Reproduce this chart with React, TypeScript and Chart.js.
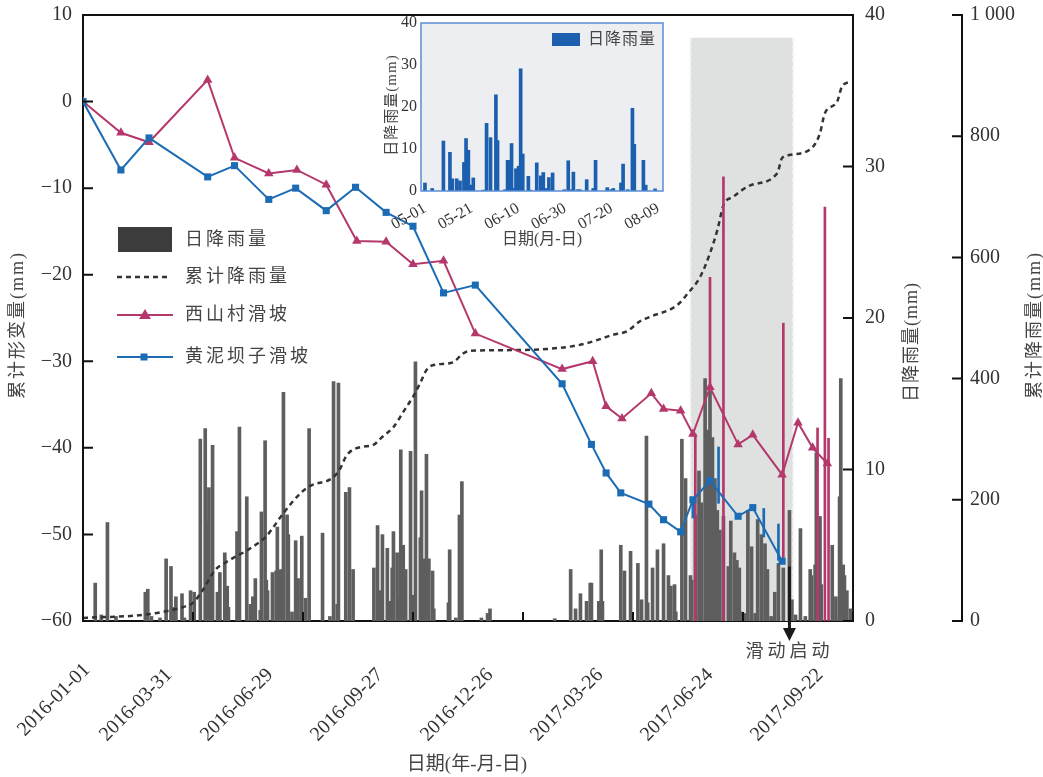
import React, { useEffect, useRef } from "react";
import { Chart, registerables } from "chart.js";
Chart.register(...registerables);

// ---------------- Main chart data (x = days since 2016-01-01) ----------------
const xTickDays = [0, 90, 180, 270, 360, 450, 540, 630];
const xTickLabels = ["2016-01-01", "2016-03-31", "2016-06-29", "2016-09-27", "2016-12-26", "2017-03-26", "2017-06-24", "2017-09-22"];

const rainDays = [10, 15, 20, 27, 51, 53, 56, 63, 68, 72, 74, 76, 81, 83, 88, 91, 96, 100, 101, 103, 105, 106, 110, 112, 116, 118, 119, 126, 128, 134, 137, 139, 141, 145, 146, 149, 150, 151, 155, 158, 159, 161, 162, 164, 167, 168, 171, 174, 176, 179, 182, 185, 196, 202, 205, 208, 209, 215, 218, 221, 238, 241, 243, 245, 249, 251, 253, 254, 257, 259, 260, 262, 264, 268, 270, 272, 276, 277, 279, 281, 283, 286, 287, 299, 300, 305, 308, 310, 326, 331, 333, 386, 399, 403, 407, 412, 415, 416, 422, 424, 425, 440, 443, 448, 454, 457, 461, 462, 466, 470, 475, 479, 481, 484, 485, 490, 493, 497, 498, 501, 504, 506, 509, 511, 513, 515, 517, 519, 521, 524, 528, 530, 533, 535, 537, 538, 541, 544, 547, 550, 552, 555, 558, 560, 563, 566, 569, 573, 578, 580, 583, 587, 591, 595, 596, 599, 600, 603, 604, 613, 616, 619, 620, 622, 623, 625, 628];
const rainValues = [2.5, 0.4, 6.5, 0.3, 1.9, 2.1, 0.3, 0.2, 4.1, 3.6, 0.9, 1.6, 1.8, 0.2, 2.0, 1.9, 12.0, 12.7, 6.5, 8.8, 3.1, 11.6, 1.9, 3.2, 4.5, 2.3, 0.9, 5.9, 12.8, 8.2, 1.1, 1.6, 2.8, 0.7, 7.2, 11.9, 2.7, 2.0, 3.2, 3.3, 6.2, 3.3, 3.4, 15.1, 7.0, 5.7, 0.6, 5.3, 2.8, 5.6, 1.5, 12.7, 5.8, 0.3, 15.8, 1.1, 15.7, 8.5, 8.8, 3.4, 3.5, 6.3, 2.0, 5.7, 4.8, 1.3, 3.5, 5.9, 4.5, 1.5, 11.3, 5.0, 3.4, 11.2, 1.7, 17.1, 5.5, 8.6, 4.1, 11.0, 4.1, 3.3, 0.8, 1.2, 4.7, 0.2, 7.0, 9.2, 0.2, 0.5, 0.8, 0.15, 3.4, 0.8, 1.8, 1.3, 2.5, 2.5, 1.3, 4.7, 1.3, 5.0, 3.3, 4.6, 3.8, 1.4, 12.2, 1.2, 3.5, 4.7, 5.1, 3.0, 2.3, 2.4, 0.6, 12.0, 9.4, 3.0, 2.7, 7.0, 9.9, 7.8, 16.0, 12.6, 15.2, 12.1, 9.4, 7.3, 6.0, 6.9, 3.6, 6.6, 4.5, 4.0, 3.5, 0.6, 0.5, 7.3, 4.9, 0.5, 6.7, 5.7, 5.1, 3.4, 0.3, 1.9, 3.8, 3.5, 7.3, 1.4, 0.4, 6.1, 0.3, 3.4, 3.0, 3.7, 11.1, 6.9, 2.4, 5.0, 1.6, 8.2, 16.0, 3.7, 3.0, 2.0, 0.8];

const cumDays = [0, 10, 27, 49, 65, 82, 90, 98, 108, 117, 137, 150, 164, 178, 186, 204, 210, 216, 227, 237, 245, 254, 263, 270, 276, 281, 286, 303, 310, 317, 350, 380, 405, 420, 433, 445, 456, 464, 486, 495, 505, 513, 519, 524, 532, 546, 568, 572, 578, 597, 603, 607, 617, 621, 628];
const cumValues = [5, 6, 7, 10, 15, 23, 30, 51, 84, 97, 120, 140, 178, 211, 223, 236, 250, 274, 287, 290, 304, 320, 348, 370, 393, 414, 422, 427, 440, 446, 447, 449, 455, 463, 472, 478, 495, 502, 521, 541, 568, 607, 645, 686, 700, 719, 739, 764, 769, 782, 805, 838, 857, 882, 890];

const xscDays = [0, 31, 54, 102, 124, 152, 175, 199, 224, 248, 270, 295, 321, 392, 417, 428, 441, 465, 475, 489, 499, 513, 536, 548, 572, 585, 597, 609];
const xscValues = [0, -3.6, -4.7, 2.5, -6.5, -8.3, -7.9, -9.6, -16.1, -16.2, -18.8, -18.4, -26.8, -30.9, -30.0, -35.2, -36.6, -33.7, -35.5, -35.7, -38.4, -33.0, -39.6, -38.5, -43.1, -37.1, -40.0, -41.8];

const hnbDays = [0, 31, 54, 102, 124, 152, 174, 199, 223, 248, 270, 295, 321, 392, 416, 428, 440, 463, 475, 489, 499, 513, 536, 548, 572];
const hnbValues = [0, -7.9, -4.2, -8.7, -7.4, -11.3, -10.0, -12.6, -9.9, -12.8, -14.4, -22.1, -21.2, -32.6, -39.6, -42.9, -45.2, -46.5, -48.3, -49.7, -46.0, -43.8, -47.9, -46.9, -53.1];

const redSpikeDays = [501, 513, 524, 573, 601, 607, 610];
const redSpikeTop = [-38.4, -20.3, -8.7, -25.6, -37.7, -12.2, -38.9];
const redSpikeBottom = [-60, -33, -60, -53.1, -60, -60, -60];

const blueSpikeDays = [499, 520, 557, 569];
const blueSpikeTop = [-45.8, -39.9, -47.0, -48.8];
const blueSpikeBottom = [-48.1, -46.4, -50.3, -53.0];

const shadeStartDay = 497;
const shadeEndDay = 581;
const shadeTopRain = 38.5;
const slideDay = 578;
const slideArrowTopRain = 3.6;

const legendLabels = ["日降雨量", "累计降雨量", "西山村滑坡", "黄泥坝子滑坡"];

// ---------------- Inset data (x = days since 05-01) ----------------
const insetTickDays = [0, 20, 40, 60, 80, 100];
const insetTickLabels = ["05-01", "05-21", "06-10", "06-30", "07-20", "08-09"];
const insetRainDays = [0, 3.1, 7.9, 10.7, 11.7, 13.6, 15, 16.7, 17.6, 18.6, 19.6, 20.7, 25, 26.4, 28.1, 30.4, 31.1, 34.3, 35.4, 36.1, 37.1, 37.9, 39, 40.1, 41, 41.9, 44.3, 45.3, 47.9, 49.6, 50.7, 51.9, 53.1, 54.7, 59.7, 61.4, 62.4, 63.6, 65.4, 66.4, 69.3, 72.1, 73.1, 78.1, 79.7, 80.7, 84, 84.9, 86.9, 88.9, 89.7, 93.6, 94.6, 98.6];
const insetRainValues = [1.9, 0.6, 11.9, 9.2, 2.9, 2.9, 2.4, 6.8, 12.5, 9.7, 1.4, 3.1, 0.2, 16.1, 12.7, 22.9, 12.0, 0.3, 7.3, 7.3, 11.3, 0.6, 5.3, 5.9, 29.1, 8.8, 3.5, 0.2, 6.7, 3.6, 4.4, 0.6, 3.2, 4.3, 0.3, 7.2, 0.3, 4.5, 0.3, 0.3, 2.7, 0.6, 7.3, 0.8, 0.3, 0.6, 1.9, 6.4, 0.3, 19.7, 11.1, 7.3, 1.4, 0.5];

// ---------------- Styles ----------------
const SERIF = "'Liberation Serif', 'Times New Roman', serif";
const CJK = "'Liberation Serif', 'Noto Sans CJK SC', sans-serif";
const RED = "#b5386c";
const BLUE = "#1c6cb5";
const BAR_GRAY = "#5e5e5e";
const INSET_BLUE = "#1b5fae";

const pts = (xs: number[], ys: any[]) => xs.map((x, i) => ({ x, y: ys[i] }));

function zeroPad(s: any) {
  s.paddingTop = 0;
  s.paddingBottom = 0;
  s.paddingLeft = 0;
  s.paddingRight = 0;
}

function vText(ctx: CanvasRenderingContext2D, text: string, x: number, y: number) {
  ctx.save();
  ctx.translate(x, y);
  ctx.rotate(-Math.PI / 2);
  ctx.textAlign = "center";
  ctx.textBaseline = "middle";
  ctx.fillText(text, 0, 0);
  ctx.restore();
}

const mainDecor = {
  id: "mainDecor",
  beforeDatasetsDraw(chart: any) {
    const { ctx, chartArea, scales } = chart;
    const x0 = scales.x.getPixelForValue(shadeStartDay);
    const x1 = scales.x.getPixelForValue(shadeEndDay);
    const yt = scales.yR.getPixelForValue(shadeTopRain);
    const yb = chartArea.bottom;
    ctx.save();
    ctx.fillStyle = "#dfe0e0";
    ctx.fillRect(x0, yt, x1 - x0, yb - yt);
    ctx.strokeStyle = "#f3f3f3";
    ctx.lineWidth = 2;
    ctx.setLineDash([4, 3]);
    ctx.beginPath();
    ctx.moveTo(x0, yt); ctx.lineTo(x0, yb);
    ctx.moveTo(x1, yt); ctx.lineTo(x1, yb);
    ctx.stroke();
    ctx.restore();
  },
  afterDraw(chart: any) {
    const { ctx, chartArea, scales } = chart;
    const { left, right, top, bottom } = chartArea;
    ctx.save();
    // top frame
    ctx.strokeStyle = "#111";
    ctx.lineWidth = 2;
    ctx.beginPath();
    ctx.moveTo(left, top); ctx.lineTo(right, top);
    ctx.stroke();
    // inward ticks
    ctx.lineWidth = 2;
    ctx.beginPath();
    scales.y.ticks.forEach((_t: any, i: number) => {
      const p = scales.y.getPixelForTick(i);
      ctx.moveTo(left, p); ctx.lineTo(left + 10, p);
    });
    scales.yR.ticks.forEach((_t: any, i: number) => {
      const p = scales.yR.getPixelForTick(i);
      ctx.moveTo(right - 10, p); ctx.lineTo(right, p);
    });
    const cl = scales.yC.left;
    scales.yC.ticks.forEach((_t: any, i: number) => {
      const p = scales.yC.getPixelForTick(i);
      ctx.moveTo(cl - 10, p); ctx.lineTo(cl, p);
    });
    scales.x.ticks.forEach((_t: any, i: number) => {
      const p = scales.x.getPixelForTick(i);
      ctx.moveTo(p, bottom); ctx.lineTo(p, bottom - 9);
    });
    ctx.stroke();

    // rotated x tick labels
    ctx.fillStyle = "#333";
    ctx.font = `20px ${SERIF}`;
    ctx.textAlign = "right";
    ctx.textBaseline = "middle";
    scales.x.ticks.forEach((_t: any, i: number) => {
      const p = scales.x.getPixelForTick(i);
      const dx = i === 0 ? 4 : i === 1 ? -24 : -33;
      const dy = i === 0 ? 46 : 51;
      ctx.save();
      ctx.translate(p + dx, bottom + dy);
      ctx.rotate(-Math.PI / 4);
      ctx.fillText(xTickLabels[i], 0, 0);
      ctx.restore();
    });

    // slide arrow
    const ax = scales.x.getPixelForValue(slideDay);
    const ay = scales.yR.getPixelForValue(slideArrowTopRain);
    ctx.strokeStyle = "#1a1a1a";
    ctx.fillStyle = "#1a1a1a";
    ctx.lineWidth = 3;
    ctx.beginPath();
    ctx.moveTo(ax, ay); ctx.lineTo(ax, bottom + 10);
    ctx.stroke();
    ctx.beginPath();
    ctx.moveTo(ax - 6.5, bottom + 7);
    ctx.lineTo(ax + 6.5, bottom + 7);
    ctx.lineTo(ax, bottom + 20);
    ctx.closePath();
    ctx.fill();

    // texts
    ctx.fillStyle = "#444";
    ctx.font = `18px ${CJK}`;
    (ctx as any).letterSpacing = "4px";
    ctx.textAlign = "center";
    ctx.textBaseline = "middle";
    ctx.fillText("滑动启动", ax, bottom + 31);

    (ctx as any).letterSpacing = "2px";
    ctx.font = `18px ${CJK}`;
    vText(ctx, "累计形变量(mm)", 18, 325);
    (ctx as any).letterSpacing = "1px";
    vText(ctx, "日降雨量(mm)", 912, 342);
    (ctx as any).letterSpacing = "2px";
    vText(ctx, "累计降雨量(mm)", 1035, 325);
    (ctx as any).letterSpacing = "0px";
    ctx.font = `19px ${CJK}`;
    ctx.textAlign = "center";
    ctx.fillText("日期(年-月-日)", 467, 765);

    // legend
    const ys = [240, 277, 315, 357];
    ctx.fillStyle = "#3c3c3c";
    ctx.fillRect(118, 227, 54, 25);
    ctx.strokeStyle = "#333";
    ctx.lineWidth = 2.5;
    ctx.setLineDash([5, 4]);
    ctx.beginPath(); ctx.moveTo(117, ys[1]); ctx.lineTo(170, ys[1]); ctx.stroke();
    ctx.setLineDash([]);
    ctx.lineWidth = 2;
    ctx.strokeStyle = RED; ctx.fillStyle = RED;
    ctx.beginPath(); ctx.moveTo(117, ys[2]); ctx.lineTo(173, ys[2]); ctx.stroke();
    ctx.beginPath(); ctx.moveTo(145, ys[2] - 6); ctx.lineTo(139, ys[2] + 4); ctx.lineTo(151, ys[2] + 4); ctx.closePath(); ctx.fill();
    ctx.strokeStyle = BLUE; ctx.fillStyle = BLUE;
    ctx.beginPath(); ctx.moveTo(117, ys[3]); ctx.lineTo(173, ys[3]); ctx.stroke();
    ctx.fillRect(140.5, ys[3] - 3.5, 7, 7);

    ctx.fillStyle = "#444";
    ctx.font = `18px ${CJK}`;
    (ctx as any).letterSpacing = "3px";
    ctx.textAlign = "left";
    ctx.textBaseline = "middle";
    legendLabels.forEach((t, i) => ctx.fillText(t, 185, ys[i]));
    ctx.restore();
  },
};

const insetDecor = {
  id: "insetDecor",
  beforeDatasetsDraw(chart: any) {
    const { ctx, chartArea } = chart;
    ctx.save();
    ctx.fillStyle = "#eceef1";
    ctx.fillRect(chartArea.left, chartArea.top, chartArea.right - chartArea.left, chartArea.bottom - chartArea.top);
    ctx.restore();
  },
  afterDraw(chart: any) {
    const { ctx, chartArea } = chart;
    const { left, right, top, bottom } = chartArea;
    ctx.save();
    ctx.strokeStyle = "#5a8fd6";
    ctx.lineWidth = 1.5;
    ctx.strokeRect(left, top, right - left, bottom - top);
    ctx.fillStyle = "#444";
    ctx.font = `15px ${CJK}`;
    (ctx as any).letterSpacing = "1px";
    vText(ctx, "日降雨量(mm)", 17, 97);
    (ctx as any).letterSpacing = "0px";
    ctx.font = `16px ${CJK}`;
    ctx.textAlign = "center";
    ctx.textBaseline = "middle";
    ctx.fillText("日期(月-日)", 167, 232);
    // legend
    ctx.fillStyle = INSET_BLUE;
    ctx.fillRect(177, 25, 28, 13);
    ctx.fillStyle = "#444";
    ctx.font = `16px ${CJK}`;
    (ctx as any).letterSpacing = "1px";
    ctx.textAlign = "left";
    ctx.fillText("日降雨量", 213, 32);
    ctx.restore();
  },
};

const axisFont = { family: SERIF, size: 20 };

function mainConfig(): any {
  return {
    type: "line",
    data: {
      datasets: [
        { type: "line", label: "黄泥坝子滑坡", data: pts(hnbDays, hnbValues), yAxisID: "y", borderColor: BLUE, backgroundColor: BLUE, borderWidth: 2, pointStyle: "rect", pointRadius: 5, pointBorderWidth: 0, order: 1 },
        { type: "line", label: "西山村滑坡", data: pts(xscDays, xscValues), yAxisID: "y", borderColor: RED, backgroundColor: RED, borderWidth: 2, pointStyle: "triangle", pointRadius: 5.5, pointBorderWidth: 0, order: 2 },
        { type: "bar", label: "黄泥坝子", data: pts(blueSpikeDays, blueSpikeDays.map((_d, i) => [blueSpikeBottom[i], blueSpikeTop[i]])), yAxisID: "y", backgroundColor: BLUE, barThickness: 2, grouped: false, order: 3 },
        { type: "bar", label: "西山村", data: pts(redSpikeDays, redSpikeDays.map((_d, i) => [redSpikeBottom[i], redSpikeTop[i]])), yAxisID: "y", backgroundColor: RED, barThickness: 2, grouped: false, order: 4 },
        { type: "line", label: "累计降雨量", data: pts(cumDays, cumValues), yAxisID: "yC", borderColor: "#333", borderDash: [5, 4], borderWidth: 2.5, pointRadius: 0, cubicInterpolationMode: "monotone", order: 5 },
        { type: "bar", label: "日降雨量", data: pts(rainDays, rainValues), yAxisID: "yR", backgroundColor: BAR_GRAY, barThickness: 3, grouped: false, order: 6 },
      ],
    },
    options: {
      responsive: false,
      animation: false,
      devicePixelRatio: 1,
      layout: { padding: { top: 15, left: 0, right: 0, bottom: 0 } },
      plugins: { legend: { display: false }, tooltip: { enabled: false } },
      scales: {
        x: {
          type: "linear", min: 0, max: 630, offset: false,
          afterBuildTicks: (s: any) => { s.ticks = xTickDays.map((v) => ({ value: v })); },
          afterFit: (s: any) => { s.height = 156; zeroPad(s); },
          grid: { display: false, drawTicks: false },
          border: { display: true, color: "#111", width: 2 },
          ticks: { display: false, autoSkip: false },
        },
        y: {
          type: "linear", position: "left", min: -60, max: 10,
          afterFit: (s: any) => { s.width = 83; zeroPad(s); },
          grid: { display: false, drawTicks: false },
          border: { display: true, color: "#111", width: 2 },
          ticks: { stepSize: 10, padding: 11, color: "#333", font: axisFont, callback: (v: number) => (v < 0 ? "\u2212" + Math.abs(v) : String(v)) },
        },
        yR: {
          type: "linear", position: "right", min: 0, max: 40, weight: 0,
          afterFit: (s: any) => { s.width = 109; zeroPad(s); },
          grid: { display: false, drawTicks: false },
          border: { display: true, color: "#111", width: 2 },
          ticks: { stepSize: 10, padding: 12, color: "#333", font: axisFont },
        },
        yC: {
          type: "linear", position: "right", min: 0, max: 1000, weight: 1,
          afterFit: (s: any) => { s.width = 81; zeroPad(s); },
          grid: { display: false, drawTicks: false },
          border: { display: true, color: "#111", width: 2 },
          ticks: { stepSize: 200, padding: 8, color: "#333", font: axisFont, callback: (v: number) => (v === 1000 ? "1 000" : String(v)) },
        },
      },
    },
    plugins: [mainDecor],
  };
}

function insetConfig(): any {
  return {
    type: "bar",
    data: {
      datasets: [
        { label: "日降雨量", data: pts(insetRainDays, insetRainValues), backgroundColor: INSET_BLUE, barThickness: 3, grouped: false },
      ],
    },
    options: {
      responsive: false,
      animation: false,
      devicePixelRatio: 1,
      layout: { padding: { top: 15, right: 12, left: 0, bottom: 0 } },
      plugins: { legend: { display: false }, tooltip: { enabled: false } },
      scales: {
        x: {
          type: "linear", min: -1.7, max: 102, offset: false,
          afterBuildTicks: (s: any) => { s.ticks = insetTickDays.map((v) => ({ value: v })); },
          afterFit: (s: any) => { s.height = 77; zeroPad(s); },
          grid: { display: false, drawTicks: false },
          border: { display: false },
          ticks: { autoSkip: false, minRotation: 30, maxRotation: 30, padding: 8, color: "#333", font: { family: SERIF, size: 16 }, callback: (_v: any, i: number) => insetTickLabels[i] },
        },
        y: {
          min: 0, max: 40,
          afterFit: (s: any) => { s.width = 46; zeroPad(s); },
          grid: { display: false, drawTicks: false },
          border: { display: false },
          ticks: { stepSize: 10, padding: 4, color: "#333", font: { family: SERIF, size: 16 } },
        },
      },
    },
    plugins: [insetDecor],
  };
}

export default function App() {
  const mainRef = useRef<HTMLCanvasElement>(null);
  const insetRef = useRef<HTMLCanvasElement>(null);
  useEffect(() => {
    const main = new Chart(mainRef.current as HTMLCanvasElement, mainConfig());
    const inset = new Chart(insetRef.current as HTMLCanvasElement, insetConfig());
    return () => {
      main.destroy();
      inset.destroy();
    };
  }, []);
  return (
    <div style={{ position: "absolute", left: 0, top: 0, width: 1043, height: 777, background: "#fff" }}>
      <canvas ref={mainRef} width={1043} height={777} style={{ position: "absolute", left: 0, top: 0, width: 1043, height: 777 }} />
      <canvas ref={insetRef} width={300} height={260} style={{ position: "absolute", left: 375, top: 8, width: 300, height: 260 }} />
    </div>
  );
}
